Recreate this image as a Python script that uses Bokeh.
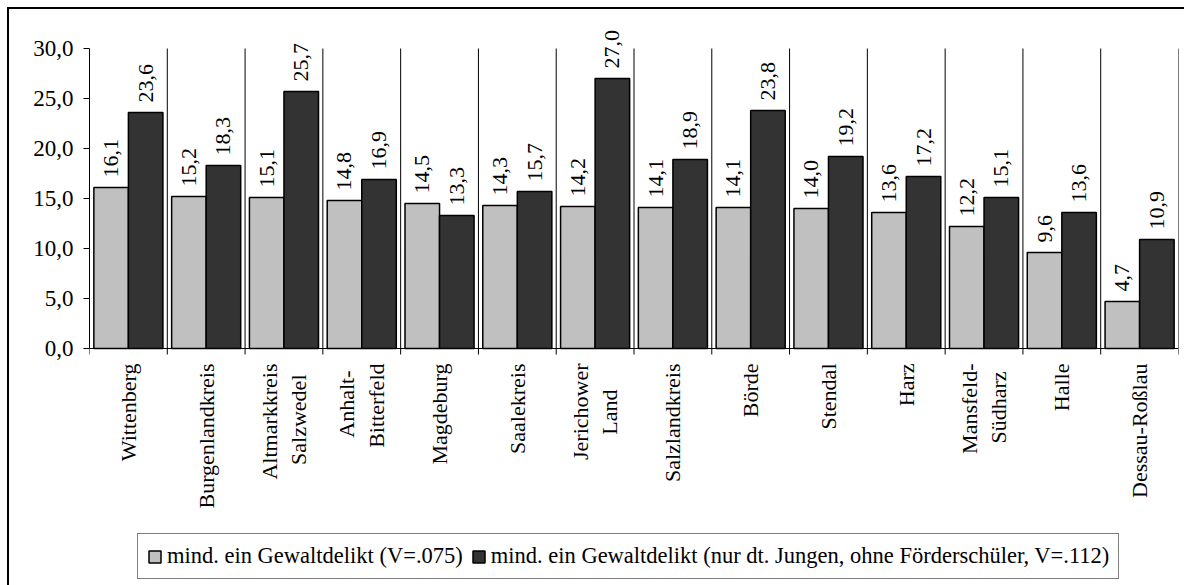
import math
from bokeh.plotting import figure
from bokeh.models import (Range1d, FixedTicker, CustomJSTickFormatter, Legend,
                          LegendItem, ColumnDataSource)
from bokeh.core.properties import value
from bokeh.embed import file_html
from bokeh.resources import INLINE

# ---------------- data ----------------
categories = ["Wittenberg", "Burgenlandkreis", "Altmarkkreis Salzwedel",
              "Anhalt-Bitterfeld", "Magdeburg", "Saalekreis", "Jerichower Land",
              "Salzlandkreis", "Börde", "Stendal", "Harz", "Mansfeld-Südharz",
              "Halle", "Dessau-Roßlau"]
tick_labels = ["Wittenberg", "Burgenlandkreis", "Altmarkkreis\nSalzwedel",
               "Anhalt-\nBitterfeld", "Magdeburg", "Saalekreis", "Jerichower\nLand",
               "Salzlandkreis", "Börde", "Stendal", "Harz", "Mansfeld-\nSüdharz",
               "Halle", "Dessau-Roßlau"]
gewalt_all = [16.1, 15.2, 15.1, 14.8, 14.5, 14.3, 14.2, 14.1, 14.1, 14.0, 13.6, 12.2, 9.6, 4.7]
gewalt_boys = [23.6, 18.3, 25.7, 16.9, 13.3, 15.7, 27.0, 18.9, 23.8, 19.2, 17.2, 15.1, 13.6, 10.9]
series_names = ["mind. ein Gewaltdelikt (V=.075)",
                "mind. ein Gewaltdelikt (nur dt. Jungen, ohne Förderschüler, V=.112)"]
y_ticks = [0, 5, 10, 15, 20, 25, 30]

# ---------------- style ----------------
FONT = "Liberation Serif"
FS = "22px"
LIGHT = "#C0C0C0"
DARK = "#333333"
PX = 10.0                 # pixels per y unit (frame height / y span)
LABEL_TOP_PX = 15         # gap between x axis and top of category labels
TICK_PX = 6               # length of the category separator ticks
LINE_DX = 0.19            # half distance between the two lines of a label (x units)
# downward shift (px) of the shorter line of two-line labels (centres it)
short_line_shift = {(2, 1): 11, (3, 0): 7, (6, 1): 26, (11, 1): 8}

n = len(categories)
bw = 0.444
centers = [i + 0.5 for i in range(n)]
y_top = 33
frame_h = 567
y_bottom = y_top - frame_h / PX


def fmt(v):
    return f"{v:.1f}".replace(".", ",")


src = ColumnDataSource(dict(
    xa=[c - bw / 2 for c in centers],
    xb=[c + bw / 2 for c in centers],
    a=gewalt_all, b=gewalt_boys,
    la=[fmt(v) for v in gewalt_all],
    lb=[fmt(v) for v in gewalt_boys],
))

# category label lines
lx, lt, loff = [], [], []
for i, lab in enumerate(tick_labels):
    lines = lab.split("\n")
    k = len(lines)
    for j, line in enumerate(lines):
        lx.append(centers[i] + (j - (k - 1) / 2) * 2 * LINE_DX)
        lt.append(line)
        loff.append(short_line_shift.get((i, j), 0))
lab_src = ColumnDataSource(dict(x=lx, y=[-LABEL_TOP_PX / PX] * len(lx), t=lt, off=loff))

p = figure(frame_width=1089, frame_height=frame_h,
           x_range=Range1d(0, n), y_range=Range1d(y_bottom, y_top),
           output_backend="svg", toolbar_location=None,
           min_border_left=80, min_border_right=6, min_border_top=9,
           min_border_bottom=0,
           background_fill_color="white", border_fill_color="white",
           outline_line_color=None)
p.styles = {"border-top": "2px solid black", "border-left": "2px solid black",
            "margin-top": "7px", "margin-left": "7px", "margin-bottom": "-20px"}
p.xgrid.visible = False
p.ygrid.visible = False
p.xaxis.visible = False

# category separators (vertical lines) and ticks under the x axis
edges = list(range(n + 1))
p.segment(x0=edges[1:], y0=[y_ticks[0]] * n, x1=edges[1:],
          y1=[y_ticks[-1]] * n, line_color="black", line_width=1)
p.segment(x0=edges, y0=[0] * (n + 1), x1=edges, y1=[-TICK_PX / PX] * (n + 1),
          line_color="black", line_width=1)

r1 = p.vbar(x="xa", top="a", bottom=0, width=bw, source=src,
            fill_color=LIGHT, line_color="black", line_width=1.5)
r2 = p.vbar(x="xb", top="b", bottom=0, width=bw, source=src,
            fill_color=DARK, line_color="black", line_width=1.5)

# x axis line
p.segment(x0=[0], y0=[0], x1=[n], y1=[0], line_color="black", line_width=1)

for xcol, ycol, tcol in (("xa", "a", "la"), ("xb", "b", "lb")):
    p.text(x=xcol, y=ycol, text=tcol, source=src, angle=math.pi / 2,
           text_align="left", text_baseline="middle", y_offset=-10,
           text_font=value(FONT), text_font_size=FS, text_color="black")

# category labels
p.text(x="x", y="y", text="t", y_offset="off", source=lab_src, angle=math.pi / 2,
       text_align="right", text_baseline="middle",
       text_font=value(FONT), text_font_size=FS, text_color="black")

# y axis
ya = p.yaxis[0]
ya.bounds = (y_ticks[0], y_ticks[-1])
ya.ticker = FixedTicker(ticks=y_ticks)
ya.formatter = CustomJSTickFormatter(code="return tick.toFixed(1).replace('.', ',');")
ya.major_tick_out = 6
ya.major_tick_in = 0
ya.minor_tick_out = 0
ya.minor_tick_in = 0
ya.major_label_standoff = 10
ya.axis_line_color = "black"
ya.major_tick_line_color = "black"
ya.major_label_text_font = FONT
ya.major_label_text_font_size = "23px"
ya.major_label_text_color = "black"

legend = Legend(items=[LegendItem(label=series_names[0], renderers=[r1]),
                       LegendItem(label=series_names[1], renderers=[r2])],
                orientation="horizontal", location=(48, 6),
                label_text_font=FONT, label_text_font_size="22.5px",
                label_text_color="black",
                glyph_width=15, glyph_height=15, label_standoff=5,
                spacing=8, padding=9, margin=0,
                border_line_color="black", border_line_width=1,
                background_fill_color="white", background_fill_alpha=1.0)
p.add_layout(legend, "center")

open("out.html", "w").write(file_html(p, INLINE))
